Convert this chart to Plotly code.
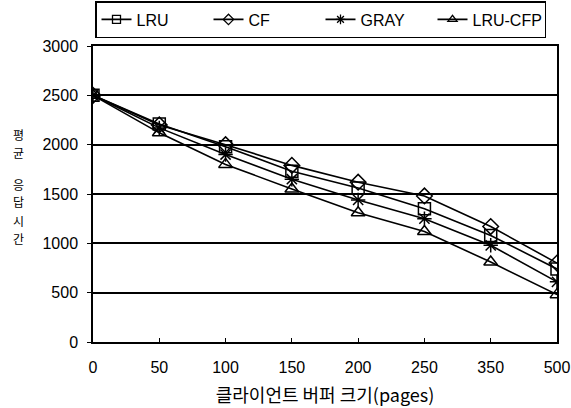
import plotly.graph_objects as go

categories = ["0", "50", "100", "150", "200", "250", "350", "500"]
lru = [2500, 2210, 1980, 1730, 1560, 1350, 1080, 740]
cf = [2500, 2200, 2000, 1790, 1620, 1480, 1170, 800]
gray = [2500, 2170, 1900, 1650, 1440, 1250, 980, 610]
lru_cfp = [2500, 2120, 1800, 1550, 1310, 1120, 810, 480]
y_ticks = [0, 500, 1000, 1500, 2000, 2500, 3000]
y_title_chars = ["평", "균", "응", "답", "시", "간"]
y_title_pos = [134, 152, 184, 202, 220, 238]

series = [
    ("LRU", lru, "square-open"),
    ("CF", cf, "diamond-open"),
    ("GRAY", gray, "asterisk-open"),
    ("LRU-CFP", lru_cfp, "triangle-up-open"),
]

fig = go.Figure()
for name, vals, sym in series:
    fig.add_trace(go.Scatter(
        x=categories, y=vals, name=name, mode="lines+markers",
        showlegend=False,
        line=dict(color="black", width=1.6),
        marker=dict(symbol=sym, size=12, color="black",
                    line=dict(color="black", width=1.5)),
    ))
# legend entries with smaller symbols (no data drawn)
for name, vals, sym in series:
    fig.add_trace(go.Scatter(
        x=[None], y=[None], name=name, mode="lines+markers",
        line=dict(color="black", width=1.6),
        marker=dict(symbol=sym, size=8, color="black",
                    line=dict(color="black", width=1.3)),
    ))

font_main = "Liberation Sans, Arial, sans-serif"
font_kr = "Noto Sans CJK KR, sans-serif"

W, H = 571, 408
L, R, T, B = 93, 14, 46, 66
pw, ph = W - L - R, H - T - B

annotations = []
for ch, py in zip(y_title_chars, y_title_pos):
    annotations.append(dict(
        text=ch, xref="paper", yref="paper",
        x=(18 - L) / pw, y=(H - B - py) / ph,
        xanchor="center", yanchor="middle", showarrow=False,
        font=dict(family=font_kr, size=12, color="black"),
    ))

fig.update_layout(
    width=W, height=H,
    margin=dict(l=L, r=R, t=T, b=B, autoexpand=False),
    paper_bgcolor="white", plot_bgcolor="white",
    font=dict(family=font_main, size=16, color="black"),
    showlegend=True,
    legend=dict(
        orientation="h", x=(95 - L) / pw, xanchor="left",
        y=1 + 8 / ph, yanchor="bottom",
        bordercolor="black", borderwidth=1.5, bgcolor="white",
        font=dict(family=font_main, size=16, color="black"),
        itemsizing="trace", tracegroupgap=0,
        entrywidth=67, entrywidthmode="pixels",
    ),
    xaxis=dict(
        type="category", range=[0, 7],
        showgrid=False, showline=True, linecolor="black", linewidth=1.5,
        mirror=True, ticks="inside", ticklen=4, tickcolor="black",
        ticklabelstandoff=10,
        tickfont=dict(family=font_main, size=16),
        title=dict(text="클라이언트 버퍼 크기(pages)",
                   font=dict(family=font_kr, size=18), standoff=14),
    ),
    yaxis=dict(
        range=[0, 3000], tickvals=y_ticks,
        showgrid=True, gridcolor="black", gridwidth=1.5,
        showline=True, linecolor="black", linewidth=1.5, mirror=True,
        ticks="outside", ticklen=4, tickcolor="black",
        ticklabelstandoff=6,
        tickfont=dict(family=font_main, size=16),
        zeroline=False,
    ),
    annotations=annotations,
)

fig.write_html("out.html", config={"displayModeBar": False},
               post_script="document.body.style.margin='0px';")
